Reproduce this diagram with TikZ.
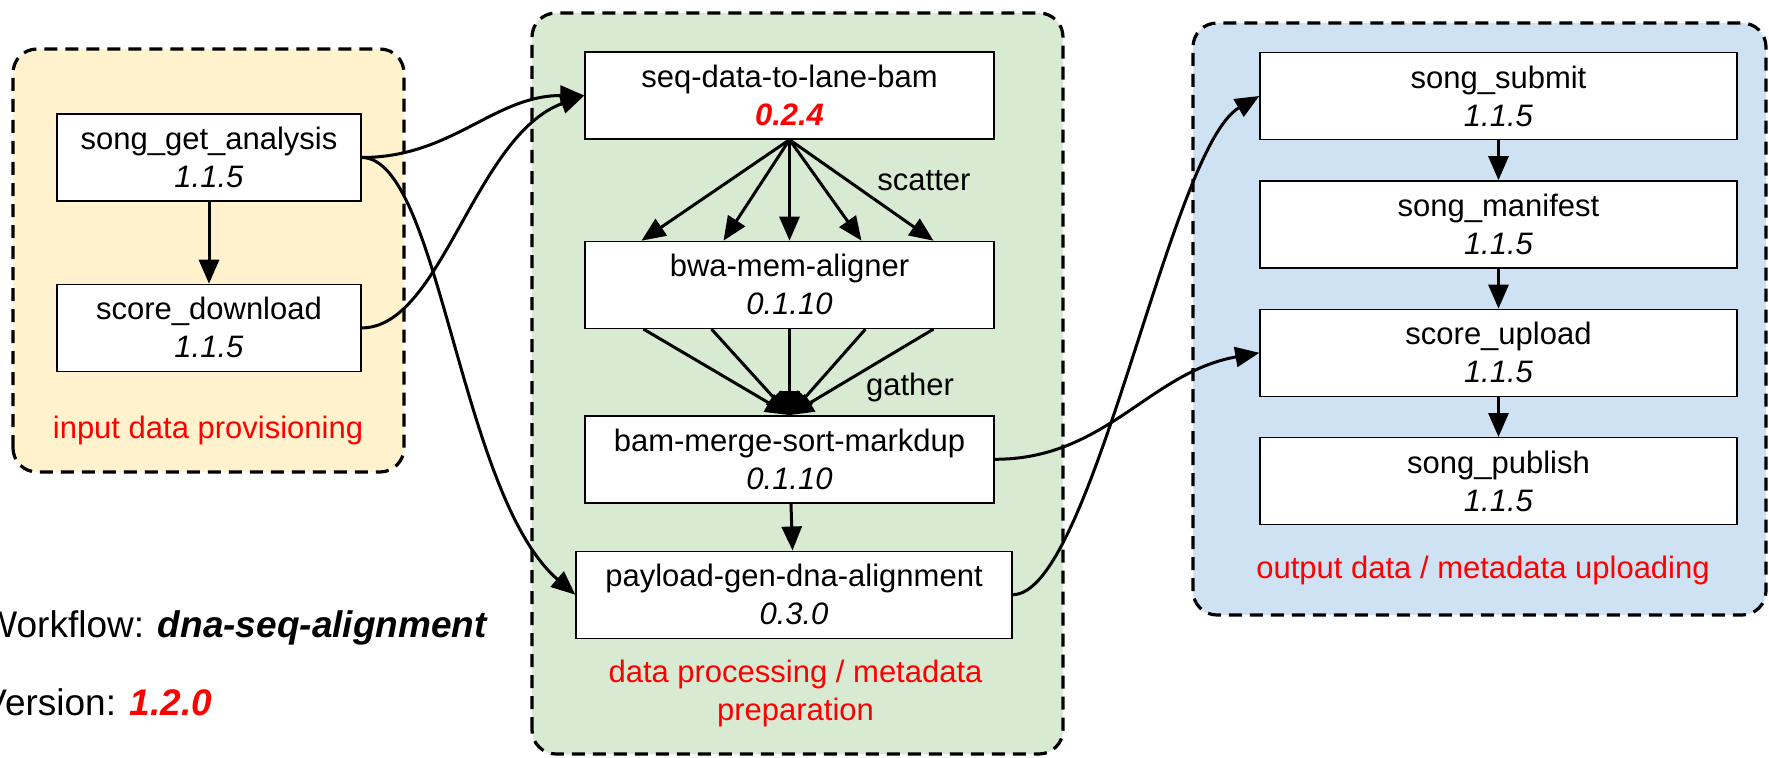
\documentclass[tikz,border=0pt]{standalone}
\usepackage{fontspec}
\setmainfont{Liberation Sans}
\usepackage{tikz}
\usetikzlibrary{arrows.meta, positioning}

\definecolor{inputbg}{HTML}{FFF2CC}
\definecolor{procbg}{HTML}{D9EAD3}
\definecolor{outputbg}{HTML}{CFE2F3}

\begin{document}
\begin{tikzpicture}[x = 1pt, y = 1pt,
    every node/.style = {font = \fontsize{15.5}{19}\selectfont},
    stage/.style = {draw, line width = 1.6pt, dash pattern = on 6.5pt off 4pt, rounded corners = 12pt},
    task/.style = {draw, fill = white, line width = 0.7pt, minimum height = 43.5pt, align = center, inner sep = 2pt},
    note/.style = {text = red, align = center},
    meta/.style = {anchor = base west, inner sep = 0pt, font = \fontsize{18.5}{22}\selectfont},
    flow/.style = {line width = 1.5pt, -{Triangle[length = 12pt, width = 10pt]}}]
  \useasboundingbox (0,0) rectangle (884.5,378.5);
  \draw[stage, fill = inputbg]  (6.5,142.5) rectangle (202,354);
  \draw[stage, fill = procbg]   (266,1.5) rectangle (531.5,372);
  \draw[stage, fill = outputbg] (596.5,71) rectangle (883,367);

  \node[task, minimum width = 152pt] (getana) at (104.5,299.75) {song\_get\_analysis\\ \textit{1.1.5}};
  \node[task, minimum width = 152pt, below = 41pt of getana] (download) {score\_download\\ \textit{1.1.5}};
  \node[note] (inlabel) at (104,163.5) {input data provisioning};

  \node[task, minimum width = 204.5pt] (seq) at (394.75,330.75) {seq-data-to-lane-bam\\ \textcolor{red}{\textbf{\textit{0.2.4}}}};
  \node[task, minimum width = 204.5pt, below = 50.5pt of seq] (bwa) {bwa-mem-aligner\\ \textit{0.1.10}};
  \node[task, minimum width = 204.5pt, below = 43pt of bwa] (bmsm) {bam-merge-sort-markdup\\ \textit{0.1.10}};
  \node[task, minimum width = 218pt, below = 23.5pt of bmsm, xshift = 2.25pt] (payload) {payload-gen-dna-alignment\\ \textit{0.3.0}};
  \node (scatterlbl) at (462,288) {scatter};
  \node (gatherlbl) at (455,185) {gather};
  \node[note] (proclabel) at (397.75,31.75) {data processing / metadata\\ preparation};

  \node[task, minimum width = 238.5pt] (submit) at (749.25,330.5) {song\_submit\\ \textit{1.1.5}};
  \node[task, minimum width = 238.5pt, below = 20pt of submit] (manifest) {song\_manifest\\ \textit{1.1.5}};
  \node[task, minimum width = 238.5pt, below = 20pt of manifest] (upload) {score\_upload\\ \textit{1.1.5}};
  \node[task, minimum width = 238.5pt, below = 20pt of upload] (publish) {song\_publish\\ \textit{1.1.5}};
  \node[note] (outlabel) at (741.5,93.5) {output data / metadata uploading};

  \node[meta] (wflabel) at (-9,59.75) {Workflow: \textbf{\textit{dna-seq-alignment}}};
  \node[meta] (verlabel) at (-9,21) {Version: \textcolor{red}{\textbf{\textit{1.2.0}}}};

  \draw[flow] (getana) -- (download);
  \foreach \dx in {-74,-33,0,36,72}
    \draw[flow] (seq.south) -- ([xshift = \dx pt]bwa.north);
  \foreach \dx in {-73,-39,0,38,72}
    \draw[flow] ([xshift = \dx pt]bwa.south) -- (bmsm.north);
  \draw[flow] (bmsm) -- (payload);
  \draw[flow] (submit) -- (manifest);
  \draw[flow] (manifest) -- (upload);
  \draw[flow] (upload) -- (publish);

  \draw[flow] (getana.east) to[out = 0, in = 180] (seq.west);
  \draw[flow] (download.east) .. controls +(40,0) and +(-55,-20) .. (seq.west);
  \draw[flow] (getana.east) .. controls +(39,0) and +(-58,50) .. (payload.west);
  \draw[flow] (bmsm.east) to[out = 0, in = 190] (upload.west);
  \draw[flow] (payload.east) .. controls +(40,0) and +(-45,-26) .. (submit.west);
\end{tikzpicture}
\end{document}
